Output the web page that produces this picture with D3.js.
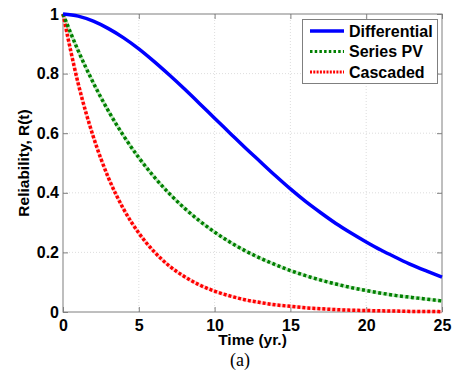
<!DOCTYPE html>
<html>
<head>
<meta charset="utf-8">
<script src="https://cdn.jsdelivr.net/npm/d3@7"></script>
<style>
  body { margin: 0; background: #fff; }
  svg { display: block; }
</style>
</head>
<body>
<svg id="chart" width="453" height="380"></svg>
<script>
// years 0..25
var years = d3.range(0, 26);
var differential = [1.000, 0.993, 0.976, 0.951, 0.920, 0.883, 0.841, 0.796, 0.749, 0.700,
                    0.650, 0.601, 0.552, 0.505, 0.458, 0.413, 0.371, 0.333, 0.297, 0.265,
                    0.235, 0.207, 0.182, 0.158, 0.137, 0.117];
var seriesPV = [1.000, 0.877, 0.769, 0.674, 0.591, 0.518, 0.454, 0.398, 0.349, 0.306,
                0.268, 0.235, 0.206, 0.181, 0.159, 0.139, 0.122, 0.107, 0.094, 0.082,
                0.072, 0.063, 0.055, 0.049, 0.043, 0.037];
var cascaded = [1.000, 0.767, 0.588, 0.450, 0.345, 0.265, 0.203, 0.155, 0.119, 0.091,
                0.070, 0.054, 0.041, 0.032, 0.024, 0.019, 0.014, 0.011, 0.008, 0.006,
                0.005, 0.004, 0.003, 0.002, 0.002, 0.001];
var xTicks = [0, 5, 10, 15, 20, 25];
var yTicks = [0, 0.2, 0.4, 0.6, 0.8, 1];
var seriesNames = ["Differential", "Series PV", "Cascaded"];
var seriesColors = ["#0000ff", "#008000", "#ff0000"];

var svg = d3.select("#chart");
var pLeft = 63, pRight = 442, pTop = 14, pBottom = 312;
var font = "'Liberation Sans', Arial, sans-serif";

var x = d3.scaleLinear().domain([0, 25]).range([pLeft, pRight]);
var y = d3.scaleLinear().domain([0, 1]).range([pBottom, pTop]);

// grid
var grid = svg.append("g");
grid.selectAll(".gx").data(xTicks.slice(1, -1)).enter().append("line")
    .attr("x1", function (d) { return x(d); })
    .attr("x2", function (d) { return x(d); })
    .attr("y1", pTop).attr("y2", pBottom)
    .style("stroke", "#d4d4d4").style("stroke-width", 0.8)
    .style("stroke-dasharray", "1,2");
grid.selectAll(".gy").data(yTicks.slice(1, -1)).enter().append("line")
    .attr("y1", function (d) { return y(d); })
    .attr("y2", function (d) { return y(d); })
    .attr("x1", pLeft).attr("x2", pRight)
    .style("stroke", "#d4d4d4").style("stroke-width", 0.8)
    .style("stroke-dasharray", "1,2");

// axes (ticks inward on all sides)
var axisB = d3.axisBottom(x).tickValues(xTicks).tickSizeInner(-5).tickSizeOuter(0).tickPadding(8);
var axisT = d3.axisTop(x).tickValues(xTicks).tickSizeInner(-5).tickSizeOuter(0).tickFormat("");
var axisL = d3.axisLeft(y).tickValues(yTicks).tickSizeInner(-5).tickSizeOuter(0).tickPadding(4)
    .tickFormat(function (d) { return String(+d.toFixed(1)); });
var axisR = d3.axisRight(y).tickValues(yTicks).tickSizeInner(-5).tickSizeOuter(0).tickFormat("");

function styleAxis(g) {
    g.select(".domain").remove();
    g.selectAll(".tick line").style("stroke", "#7f7f7f");
    g.selectAll("text").style("font-family", font).style("font-size", "16px")
        .style("font-weight", "bold").style("fill", "#000");
}
svg.append("g").attr("transform", "translate(0," + pBottom + ")").call(axisB).call(styleAxis);
svg.append("g").attr("transform", "translate(0," + pTop + ")").call(axisT).call(styleAxis);
svg.append("g").attr("transform", "translate(" + pLeft + ",0)").call(axisL).call(styleAxis);
svg.append("g").attr("transform", "translate(" + pRight + ",0)").call(axisR).call(styleAxis);

svg.append("rect")
    .attr("x", pLeft).attr("y", pTop)
    .attr("width", pRight - pLeft).attr("height", pBottom - pTop)
    .style("fill", "none").style("stroke", "#7f7f7f").style("stroke-width", 1);

// curves
var line = d3.line()
    .x(function (d, i) { return x(years[i]); })
    .y(function (d) { return y(d); })
    .curve(d3.curveMonotoneX);

var plot = svg.append("g");
// light halo under the dotted lines
plot.append("path").datum(seriesPV).attr("d", line)
    .style("fill", "none").style("stroke", "#9fd89f").style("stroke-width", 3.5).style("opacity", 0.6);
plot.append("path").datum(cascaded).attr("d", line)
    .style("fill", "none").style("stroke", "#ffb0b0").style("stroke-width", 3.5).style("opacity", 0.6);

plot.append("path").datum(cascaded).attr("d", line)
    .style("fill", "none").style("stroke", seriesColors[2]).style("stroke-width", 3.5)
    .style("stroke-dasharray", "3,2");
plot.append("path").datum(seriesPV).attr("d", line)
    .style("fill", "none").style("stroke", seriesColors[1]).style("stroke-width", 3.5)
    .style("stroke-dasharray", "3,2.5");
plot.append("path").datum(differential).attr("d", line)
    .style("fill", "none").style("stroke", seriesColors[0]).style("stroke-width", 3.5);

// labels
svg.append("text")
    .attr("x", (pLeft + pRight) / 2).attr("y", 345)
    .attr("text-anchor", "middle")
    .style("font-family", font).style("font-size", "15.5px").style("font-weight", "bold")
    .text("Time (yr.)");

svg.append("text")
    .attr("transform", "translate(29," + ((pTop + pBottom) / 2) + ") rotate(-90)")
    .attr("text-anchor", "middle")
    .style("font-family", font).style("font-size", "15.5px").style("font-weight", "bold")
    .text("Reliability, R(t)");

svg.append("text")
    .attr("x", 240).attr("y", 366)
    .attr("text-anchor", "middle")
    .style("font-family", "'Liberation Serif', 'Times New Roman', serif").style("font-size", "18px")
    .text("(a)");

// legend
var legend = svg.append("g");
legend.append("rect")
    .attr("x", 302.5).attr("y", 19.5).attr("width", 135).attr("height", 64)
    .style("fill", "#fff").style("stroke", "#7f7f7f").style("stroke-width", 1);
var rows = legend.selectAll(".lg").data(seriesNames).enter().append("g")
    .attr("transform", function (d, i) { return "translate(0," + (31 + i * 20.5) + ")"; });
rows.append("line")
    .attr("x1", 310).attr("x2", 344).attr("y1", 0).attr("y2", 0)
    .style("stroke", function (d, i) { return seriesColors[i]; })
    .style("stroke-width", function (d, i) { return i === 0 ? 3.5 : 3; })
    .style("stroke-dasharray", function (d, i) { return i === 0 ? null : (i === 1 ? "2.5,2.2" : "2,1.3"); });
rows.append("text")
    .attr("x", 349).attr("y", 5.5)
    .style("font-family", font).style("font-size", "16px").style("font-weight", "bold")
    .text(function (d) { return d; });
</script>
</body>
</html>
